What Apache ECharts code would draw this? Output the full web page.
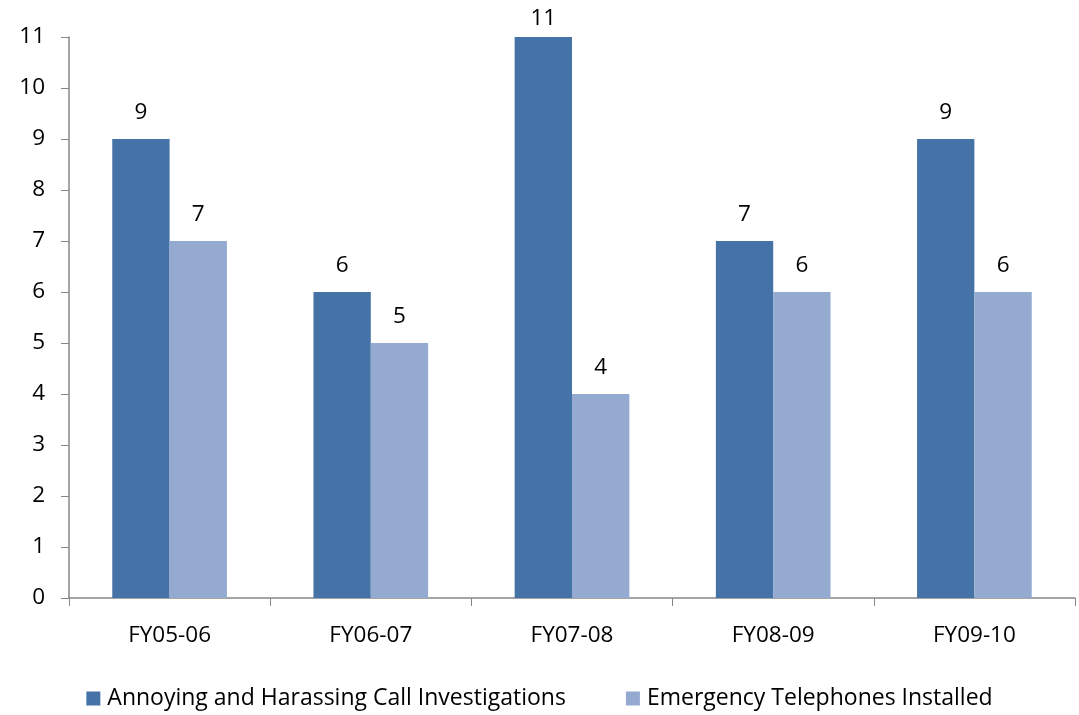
<!DOCTYPE html>
<html>
<head>
<meta charset="utf-8">
<script src="https://cdn.jsdelivr.net/npm/echarts@6/dist/echarts.min.js"></script>
<style>
  html, body { margin: 0; padding: 0; background: #fff; }
  #chart { width: 1079px; height: 715px; }
</style>
</head>
<body>
<div id="chart"></div>
<script>
// chart data
var years = ['FY05-06', 'FY06-07', 'FY07-08', 'FY08-09', 'FY09-10'];
var callInvestigations = [9, 6, 11, 7, 9];
var phonesInstalled = [7, 5, 4, 6, 6];
var seriesNames = ['Annoying and Harassing Call Investigations', 'Emergency Telephones Installed'];

var chart = echarts.init(document.getElementById('chart'));

var labelStyle = {
    show: true,
    position: 'top',
    distance: 15,
    color: '#000',
    fontSize: 22.5,
    fontFamily: 'Open Sans'
};

// keep labels that would run off the top inside the canvas
function keepInside(p) {
    return p.labelRect.y < 0 ? { dy: 8 } : {};
}

var option = {
    animation: false,
    color: ['#4673a7', '#95aad1'],
    textStyle: { fontFamily: 'Open Sans' },
    grid: { left: 69, right: 4, top: 37, bottom: 117 },
    legend: {
        bottom: 0,
        left: 'center',
        icon: 'rect',
        itemWidth: 14,
        itemHeight: 14,
        itemGap: 60,
        textStyle: { fontSize: 23, color: '#000', fontFamily: 'Open Sans', padding: [0, 0, 0, 2] },
        data: seriesNames
    },
    xAxis: {
        type: 'category',
        data: years,
        axisLine: { lineStyle: { color: '#868686', width: 1.5 } },
        axisTick: { show: true, length: 8, lineStyle: { color: '#868686' } },
        axisLabel: { color: '#000', fontSize: 22.5, margin: 26 }
    },
    yAxis: {
        type: 'value',
        min: 0,
        max: 11,
        interval: 1,
        splitLine: { show: false },
        axisLine: { show: true, lineStyle: { color: '#868686', width: 1.5 } },
        axisTick: { show: true, length: 8, lineStyle: { color: '#868686' } },
        axisLabel: { color: '#000', fontSize: 22.5, margin: 24 }
    },
    series: [
        {
            name: seriesNames[0],
            type: 'bar',
            data: callInvestigations,
            barGap: '0%',
            barCategoryGap: '43%',
            label: labelStyle,
            labelLayout: keepInside
        },
        {
            name: seriesNames[1],
            type: 'bar',
            data: phonesInstalled,
            label: labelStyle,
            labelLayout: keepInside
        }
    ]
};

chart.setOption(option);
</script>
</body>
</html>
